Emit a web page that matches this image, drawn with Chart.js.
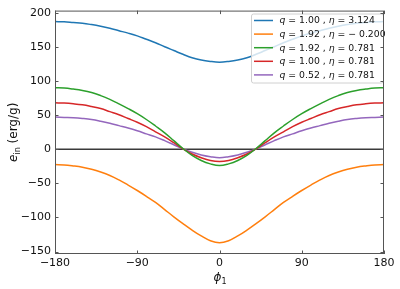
<!DOCTYPE html>
<html>
<head>
<meta charset="utf-8">
<script src="https://cdn.jsdelivr.net/npm/chart.js@4.4.0/dist/chart.umd.min.js"></script>
<style>
  html, body { margin: 0; padding: 0; background: #fff; }
  #wrap { width: 400px; height: 289px; }
</style>
</head>
<body>
<div id="wrap"><canvas id="chart"></canvas></div>
<script>
// phi_1 samples (deg), every 10 degrees
const phi = [-180, -170, -160, -150, -140, -130, -120, -110, -100, -90, -80, -70, -60, -50, -40, -30, -20, -10, 0,
             10, 20, 30, 40, 50, 60, 70, 80, 90, 100, 110, 120, 130, 140, 150, 160, 170, 180];

// e_in (erg/g) per curve
const eBlue   = [187, 186.5, 185.5, 184.5, 182.5, 180, 177, 173.5, 170, 166, 161, 156, 150, 144.5, 139, 134, 130.5, 128.5, 127.5,
                 128.5, 130.5, 134, 139, 144.5, 150, 156, 161, 166, 170, 173.5, 177, 180, 182.5, 184.5, 185.5, 186.5, 187];
const eOrange = [-22.5, -23, -24.5, -26.5, -29.5, -33.5, -38.5, -45, -52.5, -60.5, -69, -78, -88.5, -99, -109, -118.5, -127, -134, -137,
                 -134, -127, -118.5, -109, -99, -88.5, -78, -69, -60.5, -52.5, -45, -38.5, -33.5, -29.5, -26.5, -24.5, -23, -22.5];
const eGreen  = [90, 89.5, 88, 86, 83, 78.5, 73, 66.5, 59.5, 52, 43.5, 34, 24, 12.5, 1, -9, -16.5, -21.5, -24,
                 -21.5, -16.5, -9, 1, 12.5, 24, 34, 43.5, 52, 59.5, 66.5, 73, 78.5, 83, 86, 88, 89.5, 90];
const eRed    = [68, 67.5, 66.5, 65, 62.5, 59.5, 55, 50.5, 45, 39.5, 33, 25.5, 18, 9.5, 0.5, -7, -12.5, -16.5, -18,
                 -16.5, -12.5, -7, 0.5, 9.5, 18, 25.5, 33, 39.5, 45, 50.5, 55, 59.5, 62.5, 65, 66.5, 67.5, 68];
const ePurple = [47, 46.5, 46, 45, 43.5, 41, 38, 34.5, 31, 27, 22.5, 18, 12.5, 6.5, 0.5, -4.5, -8.5, -11, -12.5,
                 -11, -8.5, -4.5, 0.5, 6.5, 12.5, 18, 22.5, 27, 31, 34.5, 38, 41, 43.5, 45, 46, 46.5, 47];

// legend labels: q and eta values
const qVals   = ['1.00', '1.92', '1.92', '1.00', '0.52'];
const etaVals = ['3.124', '\u2212 0.200', '0.781', '0.781', '0.781'];
const colors  = ['#1f77b4', '#ff7f0e', '#2ca02c', '#d62728', '#9467bd'];
const series  = [eBlue, eOrange, eGreen, eRed, ePurple];

const xTicks = [-180, -90, 0, 90, 180];
const yTicks = [-150, -100, -50, 0, 50, 100, 150, 200];

const FONT = 'DejaVu Sans';
const SPINE = '#555';

function minus(v) {
    return String(v).replace('-', '\u2212');
}

const datasets = series.map((vals, i) => ({
    label: 'q=' + qVals[i] + ', eta=' + etaVals[i],
    data: phi.map((x, j) => ({ x: x, y: vals[j] })),
    borderColor: colors[i],
    borderWidth: 1.5,
    pointRadius: 0,
    fill: false,
    tension: 0.4
}));

// zero line, frame with inward ticks, legend and axis titles
const decorations = {
    id: 'decorations',
    beforeDatasetsDraw(chart) {
        const ctx = chart.ctx, ca = chart.chartArea, y = chart.scales.y;
        const y0 = y.getPixelForValue(0);
        ctx.save();
        ctx.strokeStyle = '#3a3a3a';
        ctx.lineWidth = 1.5;
        ctx.beginPath();
        ctx.moveTo(ca.left, y0);
        ctx.lineTo(ca.right, y0);
        ctx.stroke();
        ctx.restore();
    },
    afterDatasetsDraw(chart) {
        const ctx = chart.ctx, ca = chart.chartArea;
        const xs = chart.scales.x, ys = chart.scales.y;
        ctx.save();

        // legend box
        const bx = 251, by = 13.5, bw = 132, bh = 69;
        ctx.fillStyle = 'rgba(255,255,255,0.8)';
        ctx.strokeStyle = '#d0d0d0';
        ctx.lineWidth = 1;
        ctx.beginPath();
        ctx.roundRect(bx + 0.5, by + 0.5, bw, bh, 2);
        ctx.fill();
        ctx.stroke();

        ctx.textBaseline = 'middle';
        for (let i = 0; i < series.length; i++) {
            const ry = 20.5 + i * 13.6;
            ctx.strokeStyle = colors[i];
            ctx.lineWidth = 1.5;
            ctx.beginPath();
            ctx.moveTo(254, ry);
            ctx.lineTo(273, ry);
            ctx.stroke();

            let tx = 279.5;
            const parts = [
                ['italic 9.3px "' + FONT + '"', 'q'],
                ['9.3px "' + FONT + '"', ' = ' + qVals[i] + ' , '],
                ['italic 9.3px "' + FONT + '"', '\u03b7'],
                ['9.3px "' + FONT + '"', ' = ' + etaVals[i]]
            ];
            ctx.fillStyle = '#111';
            parts.forEach(p => {
                ctx.font = p[0];
                ctx.fillText(p[1], tx, ry + 0.5);
                tx += ctx.measureText(p[1]).width;
            });
        }

        // frame
        ctx.strokeStyle = SPINE;
        ctx.lineWidth = 1;
        ctx.strokeRect(ca.left + 0.5, ca.top + 0.5, ca.right - ca.left - 1, ca.bottom - ca.top - 1);

        // inward ticks on all four sides
        const tl = 3.5;
        ctx.beginPath();
        xTicks.forEach(v => {
            const px = Math.round(xs.getPixelForValue(v)) + 0.5;
            ctx.moveTo(px, ca.bottom); ctx.lineTo(px, ca.bottom - tl);
            ctx.moveTo(px, ca.top); ctx.lineTo(px, ca.top + tl);
        });
        yTicks.forEach(v => {
            const py = Math.round(ys.getPixelForValue(v)) + 0.5;
            ctx.moveTo(ca.left, py); ctx.lineTo(ca.left + tl, py);
            ctx.moveTo(ca.right, py); ctx.lineTo(ca.right - tl, py);
        });
        ctx.stroke();

        // x title: phi_1
        ctx.fillStyle = '#111';
        ctx.textBaseline = 'alphabetic';
        ctx.font = 'italic 12px "' + FONT + '"';
        const cx = (ca.left + ca.right) / 2;
        const pw = ctx.measureText('\u03d5').width;
        ctx.fillText('\u03d5', cx - pw / 2 - 2, 281);
        ctx.font = '8px "' + FONT + '"';
        ctx.fillText('1', cx + pw / 2 - 2, 283.5);

        // y title: e_in (erg/g)
        ctx.translate(17, (ca.top + ca.bottom) / 2);
        ctx.rotate(-Math.PI / 2);
        const segs = [
            ['italic 12px "' + FONT + '"', 'e', 0],
            ['8px "' + FONT + '"', 'in', 2.5],
            ['12px "' + FONT + '"', ' (erg/g)', 0]
        ];
        let total = 0;
        segs.forEach(s => { ctx.font = s[0]; total += ctx.measureText(s[1]).width; });
        let tx = -total / 2;
        segs.forEach(s => {
            ctx.font = s[0];
            ctx.fillText(s[1], tx, s[2]);
            tx += ctx.measureText(s[1]).width;
        });
        ctx.restore();
    }
};

new Chart(document.getElementById('chart'), {
    type: 'line',
    data: { datasets: datasets },
    options: {
        animation: false,
        responsive: true,
        maintainAspectRatio: false,
        devicePixelRatio: 1,
        layout: { padding: { top: 9, right: 16, left: 0, bottom: 0 } },
        plugins: { legend: { display: false }, tooltip: { enabled: false } },
        scales: {
            x: {
                type: 'linear',
                min: -180,
                max: 180,
                afterBuildTicks: s => { s.ticks = xTicks.map(v => ({ value: v })); },
                afterFit: s => { s.height = 35; },
                grid: { display: false, drawTicks: false },
                border: { display: false },
                ticks: {
                    color: '#111',
                    padding: 3,
                    maxRotation: 0,
                    font: { family: FONT, size: 11 },
                    callback: v => minus(v)
                }
            },
            y: {
                type: 'linear',
                min: -153.5,
                max: 203,
                afterBuildTicks: s => { s.ticks = yTicks.map(v => ({ value: v })); },
                afterFit: s => { s.width = 55; },
                grid: { display: false, drawTicks: false },
                border: { display: false },
                ticks: {
                    color: '#111',
                    padding: 4,
                    font: { family: FONT, size: 11 },
                    callback: v => minus(v)
                }
            }
        }
    },
    plugins: [decorations]
});
</script>
</body>
</html>
